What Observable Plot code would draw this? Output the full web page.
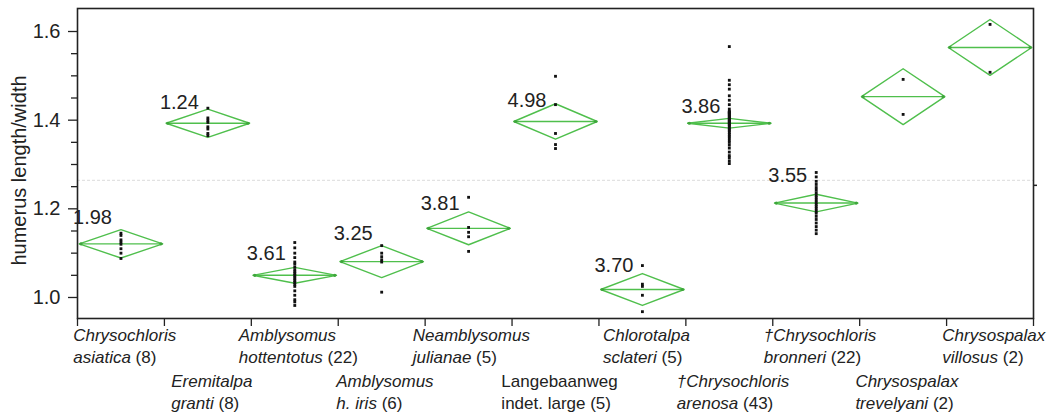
<!DOCTYPE html>
<html><head><meta charset="utf-8">
<script src="https://cdn.jsdelivr.net/npm/d3@7"></script>
<script src="https://cdn.jsdelivr.net/npm/@observablehq/plot@0.6"></script>
<style>
html,body{margin:0;padding:0;background:#fff;}
svg{font-family:"Liberation Sans",Arial,Helvetica,sans-serif;}
</style></head><body><div id="chart"></div>
<script>
// ---- data ----
const genus = ["Chrysochloris","Eremitalpa","Amblysomus","Amblysomus","Neamblysomus","Langebaanweg","Chlorotalpa","†Chrysochloris","†Chrysochloris","Chrysospalax","Chrysospalax"];
const species = ["asiatica","granti","hottentotus","h. iris","julianae","indet. large","sclateri","arenosa","bronneri","trevelyani","villosus"];
const sampleN = [8,8,22,6,5,5,5,43,22,2,2];
const italicName = [true,true,true,true,true,false,true,true,true,true,true];
const groupMean = [1.121,1.393,1.050,1.081,1.156,1.397,1.018,1.393,1.213,1.453,1.564];
const ciHalf = [0.032,0.032,0.018,0.036,0.037,0.040,0.036,0.011,0.020,0.063,0.063];
const observations = [
  [1.145,1.14,1.13,1.125,1.12,1.11,1.10,1.088],
  [1.427,1.405,1.40,1.395,1.385,1.38,1.37,1.365],
  [1.124,1.112,1.10,1.09,1.08,1.075,1.068,1.062,1.058,1.054,1.05,1.046,1.042,1.038,1.034,1.03,1.025,1.015,1.005,0.995,0.99,0.982],
  [1.117,1.10,1.092,1.085,1.08,1.012],
  [1.226,1.158,1.147,1.137,1.104],
  [1.499,1.435,1.37,1.345,1.336],
  [1.072,1.03,1.025,1.005,0.968],
  [1.566,1.49,1.48,1.47,1.455,1.445,1.435,1.425,1.418,
   1.42,1.418,1.416,1.414,1.412,1.41,1.408,1.406,1.404,1.402,1.40,1.398,1.396,1.394,1.392,
   1.39,1.388,1.385,1.382,1.379,1.376,1.372,1.368,1.364,1.36,1.355,1.35,1.344,1.337,1.328,
   1.32,1.315,1.308,1.302],
  [1.282,1.272,1.262,1.255,1.248,1.242,1.236,1.23,1.225,1.22,1.215,1.21,1.205,1.2,1.195,1.19,1.183,1.176,1.168,1.16,1.152,1.144],
  [1.492,1.413],
  [1.616,1.508]
];
const diamondLabel = ["1.98","1.24","3.61","3.25","3.81","4.98","3.70","3.86","3.55",null,null];
const diamondLabelY = [1.180,1.440,1.099,1.144,1.212,1.444,1.072,1.431,1.275,null,null];
const grandMean = 1.264;
const rightMark = 1.253;
const yMajorTicks = [1.0,1.2,1.4,1.6];
const yMinorTicks = [1.05,1.1,1.15,1.25,1.3,1.35,1.45,1.5,1.55];
const yTitle = "humerus length/width";

// ---- derived tables ----
const green = "#4fbf4c";
const hw = 0.48;
const idx = d3.range(genus.length);
const diamondPts = idx.flatMap(i => [
  {g:i, x:i+0.5-hw, y:groupMean[i]},
  {g:i, x:i+0.5,    y:groupMean[i]+ciHalf[i]},
  {g:i, x:i+0.5+hw, y:groupMean[i]},
  {g:i, x:i+0.5,    y:groupMean[i]-ciHalf[i]},
  {g:i, x:i+0.5-hw, y:groupMean[i]}
]);
const obsPts = idx.flatMap(i => observations[i].map(v => ({x:i+0.5, y:v})));
const labelIdx = idx.filter(i => diamondLabel[i]);
const evenIdx = idx.filter(i => i % 2 === 0);
const oddIdx = idx.filter(i => i % 2 === 1);
const catText = i => genus[i] + "\n" + species[i] + " (" + sampleN[i] + ")";

const svg = Plot.plot({
  width: 1052, height: 414,
  marginLeft: 77, marginRight: 19, marginTop: 8, marginBottom: 96,
  x: {type: "linear", domain: [0, genus.length]},
  y: {domain: [0.9526, 1.6519]},
  style: {fontFamily: '"Liberation Sans",Arial,Helvetica,sans-serif', background: "white", color: "#222"},
  marks: [
    Plot.ruleY([grandMean], {stroke: "#e2e2e2", strokeDasharray: "3,2", strokeWidth: 1.2}),
    Plot.line(diamondPts, {x: "x", y: "y", z: "g", stroke: green, strokeWidth: 1.4}),
    Plot.link(idx, {x1: i => i+0.5-hw, x2: i => i+0.5+hw, y1: i => groupMean[i], y2: i => groupMean[i], stroke: green, strokeWidth: 1.4}),
    Plot.dot(idx.flatMap(i => [{x:i+0.5-hw+0.02, y:groupMean[i]}, {x:i+0.5+hw-0.02, y:groupMean[i]}]), {x:"x", y:"y", r: 1.6, fill: "#3fa53c", stroke: "none"}),
    Plot.dot(obsPts, {x: "x", y: "y", symbol: "square", r: 1.6, fill: "#111", stroke: "none"}),
    Plot.text(labelIdx, {x: i => i+0.5, y: i => diamondLabelY[i], text: i => diamondLabel[i], textAnchor: "end", dx: -9, fontSize: 20, fill: "#222"}),
    Plot.axisY({ticks: yMajorTicks, tickFormat: d3.format(".1f"), tickSize: 9, tickPadding: 8, fontSize: 20, label: null, stroke: "#222", strokeWidth: 1.3}),
    Plot.axisY({ticks: yMinorTicks, tickFormat: () => "", tickSize: 6, label: null, stroke: "#222", strokeWidth: 1.3}),
    Plot.axisY({anchor: "right", ticks: [rightMark], tickFormat: () => "", tickSize: 3, label: null, stroke: "#222", strokeWidth: 1.5}),
    Plot.axisX({ticks: d3.range(genus.length + 1), tickFormat: () => "", tickSize: 8, label: null, stroke: "#222", strokeWidth: 1.3}),
    Plot.text([yTitle], {text: d => d, frameAnchor: "left", rotate: -90, dx: -58, dy: 7, fontSize: 20, textAnchor: "middle", fill: "#222"}),
    Plot.text(evenIdx, {x: i => i+0.5, frameAnchor: "bottom", text: catText, textAnchor: "start", lineAnchor: "top", dy: 7, dx: 4, fontSize: 17, lineHeight: 1.3, fill: "#222"}),
    Plot.text(oddIdx, {x: i => i+0.5, frameAnchor: "bottom", text: catText, textAnchor: "start", lineAnchor: "top", dy: 53, dx: 4, fontSize: 17, lineHeight: 1.3, fill: "#222"}),
    Plot.frame({stroke: "#222", strokeWidth: 1.6})
  ]
});
document.getElementById("chart").append(svg);

// mixed italic / upright category labels, block-centred under each category
const NS = "http://www.w3.org/2000/svg";
const labelGroups = Array.from(svg.querySelectorAll("g")).filter(g => g.getAttribute("font-size") === "17");
[evenIdx, oddIdx].forEach((arr, gi) => {
  const grp = labelGroups[gi];
  if (!grp) return;
  grp.querySelectorAll("text").forEach((t, k) => {
    const i = arr[k];
    const spans = t.querySelectorAll("tspan");
    if (italicName[i] && spans.length >= 2) {
      spans[0].setAttribute("font-style", "italic");
      spans[1].textContent = "";
      const it = document.createElementNS(NS, "tspan");
      it.setAttribute("font-style", "italic");
      it.textContent = species[i];
      spans[1].append(it, " (" + sampleN[i] + ")");
    }
    const w = t.getBBox().width;
    t.setAttribute("transform", (t.getAttribute("transform") || "") + ` translate(${-w/2},0)`);
  });
});
</script></body></html>
